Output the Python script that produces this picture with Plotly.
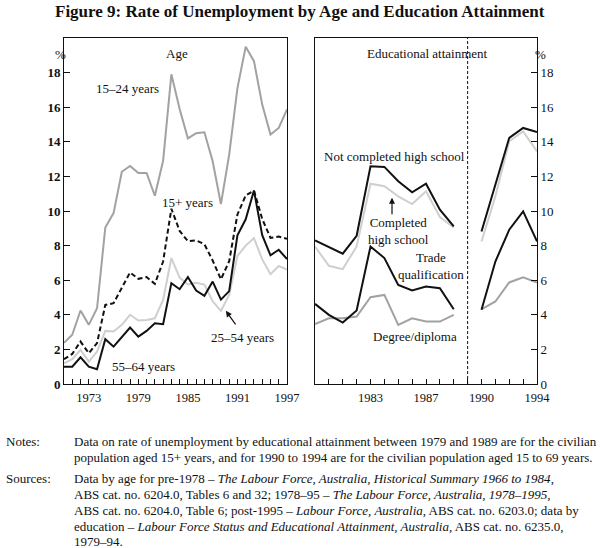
import plotly.graph_objects as go

# ---------------- data ----------------
age_years = list(range(1970, 1998))
age_15_24 = [2.38, 2.85, 4.25, 3.42, 4.38, 9.04, 9.88, 12.27, 12.6, 12.2, 12.2, 10.88, 12.9, 17.9,
             15.9, 14.2, 14.5, 14.55, 12.87, 10.4, 13.26, 17.1, 19.5, 18.66, 16.15, 14.42, 14.8, 15.87]
age_15_plus = [1.43, 1.74, 2.45, 1.78, 2.36, 4.57, 4.67, 5.54, 6.45, 6.08, 6.18, 5.79, 7.08, 10.13,
               8.85, 8.25, 8.3, 8.08, 7.14, 6.05, 7.1, 9.8, 10.9, 11.18, 9.54, 8.45, 8.52, 8.4]
age_25_54 = [1.2, 1.43, 1.97, 1.29, 1.87, 3.07, 3.03, 3.42, 4.0, 3.67, 3.7, 3.8, 4.86, 7.28,
             6.15, 5.75, 5.85, 5.75, 4.78, 4.22, 5.15, 7.4, 8.0, 8.43, 7.2, 6.35, 6.82, 6.62]
age_55_64 = [1.0, 1.0, 1.54, 1.0, 0.85, 2.59, 2.16, 2.7, 3.26, 2.74, 3.07, 3.51, 3.46, 5.83,
             5.48, 6.18, 5.4, 5.1, 5.92, 4.88, 5.37, 8.6, 9.52, 11.18, 8.6, 7.44, 7.76, 7.22]

edu_years_a = list(range(1979, 1990))
edu_years_b = list(range(1990, 1995))
not_completed_a = [8.3, 7.92, 7.53, 8.57, 12.59, 12.55, 11.72, 11.08, 11.58, 10.08, 9.11]
completed_a = [7.95, 6.83, 6.64, 7.95, 11.58, 11.43, 10.85, 10.4, 11.14, 9.65, 9.05]
trade_a = [4.63, 4.0, 3.55, 4.25, 7.95, 7.28, 5.73, 5.41, 5.64, 5.54, 4.32]
degree_a = [3.47, 3.8, 3.8, 3.9, 5.02, 5.15, 3.42, 3.8, 3.61, 3.61, 4.0]
not_completed_b = [8.82, 11.53, 14.23, 14.8, 14.56]
completed_b = [8.24, 10.85, 14.03, 14.6, 13.45]
trade_b = [4.29, 7.08, 8.92, 9.98, 8.24]
degree_b = [4.32, 4.77, 5.87, 6.16, 5.87]

age_tick_labels = [1973, 1979, 1985, 1991, 1997]
edu_tick_labels = [1983, 1987, 1990, 1994]
y_ticks = list(range(0, 20, 2))

# ---------------- layout helpers ----------------
W, H = 600, 548
SERIF = "Liberation Serif"
BLACK = "#111111"
MID_GREY = "#a2a2a2"
LIGHT_GREY = "#cfcfcf"
GAP = 1  # blank slot on the education axis between 1989 and 1990


def edu_pos(years):
    return [y + GAP if y >= 1990 else y for y in years]


def pxx(p):
    return p / W


def pxy(p):
    return 1 - p / H


fig = go.Figure()

# Age panel
fig.add_trace(go.Scatter(x=age_years, y=age_15_24, mode="lines", line=dict(color=MID_GREY, width=2), xaxis="x", yaxis="y"))
fig.add_trace(go.Scatter(x=age_years, y=age_25_54, mode="lines", line=dict(color=LIGHT_GREY, width=2), xaxis="x", yaxis="y"))
fig.add_trace(go.Scatter(x=age_years, y=age_55_64, mode="lines", line=dict(color=BLACK, width=2), xaxis="x", yaxis="y"))
fig.add_trace(go.Scatter(x=age_years, y=age_15_plus, mode="lines", line=dict(color=BLACK, width=2, dash="5px,3px"), xaxis="x", yaxis="y"))

# Education panel
for ya, yb, col in [(completed_a, completed_b, LIGHT_GREY), (degree_a, degree_b, MID_GREY),
                    (not_completed_a, not_completed_b, BLACK), (trade_a, trade_b, BLACK)]:
    fig.add_trace(go.Scatter(x=edu_pos(edu_years_a), y=ya, mode="lines", line=dict(color=col, width=2), xaxis="x2", yaxis="y2"))
    fig.add_trace(go.Scatter(x=edu_pos(edu_years_b), y=yb, mode="lines", line=dict(color=col, width=2), xaxis="x2", yaxis="y2"))

ydom = [pxy(384), pxy(38)]
axis_common = dict(showline=True, mirror=True, linecolor=BLACK, linewidth=1, showgrid=False, zeroline=False,
                   ticks="inside", tickcolor=BLACK, tickwidth=1, automargin=False)

age_tickvals = age_years
age_ticktext = [str(y) if y in age_tick_labels else "" for y in age_years]
edu_all = edu_years_a + edu_years_b
edu_tickvals = sorted(set(edu_pos(edu_all)) | {1990})
edu_ticktext = []
for v in edu_tickvals:
    yr = v - GAP if v > 1990 else v
    if v == 1990:
        edu_ticktext.append("")
    else:
        edu_ticktext.append(str(yr) if yr in edu_tick_labels else "")

fig.update_layout(
    width=W, height=H, margin=dict(l=0, r=0, t=0, b=0, pad=0),
    paper_bgcolor="white", plot_bgcolor="white", showlegend=False,
    font=dict(family=SERIF, color=BLACK, size=12),
    xaxis=dict(domain=[pxx(64), pxx(287)], range=[1970, 1997], tickvals=age_tickvals, ticktext=age_ticktext,
               ticklen=5, anchor="y", ticklabelstandoff=2, tickfont=dict(family=SERIF, size=12.5), **axis_common),
    yaxis=dict(domain=ydom, range=[0, 20], tickvals=y_ticks, ticktext=[f"<b>{v}</b>" for v in y_ticks],
               ticklen=6, anchor="x", tickfont=dict(family=SERIF, size=13), **axis_common),
    xaxis2=dict(domain=[pxx(315), pxx(537)], range=[1979, 1995], tickvals=edu_tickvals, ticktext=edu_ticktext,
                ticklen=5, anchor="y2", ticklabelstandoff=2, tickfont=dict(family=SERIF, size=12.5), **axis_common),
    yaxis2=dict(domain=ydom, range=[0, 20], tickvals=y_ticks, side="right", ticklen=6, anchor="x2",
                tickfont=dict(family=SERIF, size=13), **axis_common),
)

fig.add_shape(type="line", xref="x2", yref="y2 domain", x0=1990, x1=1990, y0=0, y1=1,
              line=dict(color=BLACK, width=1, dash="3px,2px"))

ann = []
txt = dict(family=SERIF, size=13, color=BLACK)
# title
ann.append(dict(text="<b>Figure 9: Rate of Unemployment by Age and Education Attainment</b>", xref="paper", yref="paper",
                x=0.5, y=pxy(12), xanchor="center", yanchor="middle", showarrow=False,
                font=dict(family=SERIF, size=17, color=BLACK)))
# percent signs
ann.append(dict(text="%", xref="paper", yref="paper", x=pxx(53), y=pxy(45), showarrow=False, font=txt))
ann.append(dict(text="%", xref="paper", yref="paper", x=pxx(548), y=pxy(45), showarrow=False, font=txt))

# age panel labels
for t, x, y in [("Age", 1983.7, 19.1), ("15–24 years", 1977.7, 17.1), ("15+ years", 1984.9, 10.5),
                ("25–54 years", 1991.6, 2.66), ("55–64 years", 1979.6, 1.04)]:
    ann.append(dict(text=t, xref="x", yref="y", x=x, y=y, showarrow=False, font=txt))
ann.append(dict(text="", xref="x", yref="y", x=1989.6, y=4.23, axref="x", ayref="y", ax=1990.9, ay=3.36,
                showarrow=True, arrowhead=2, arrowsize=1, arrowwidth=1.2, arrowcolor=BLACK))

# education panel labels
for t, x, y in [("Educational attainment", 1987.1, 19.1), ("Not completed high school", 1984.7, 13.16),
                ("Completed<br>high school", 1985.05, 8.86), ("Trade<br>qualification", 1987.36, 6.83),
                ("Degree/diploma", 1986.2, 2.72)]:
    ann.append(dict(text=t, xref="x2", yref="y2", x=x, y=y, showarrow=False, font=txt))
ann.append(dict(text="", xref="x2", yref="y2", x=1984.55, y=10.77, axref="x2", ayref="y2", ax=1984.55, ay=9.73,
                showarrow=True, arrowhead=2, arrowsize=1, arrowwidth=1.2, arrowcolor=BLACK))

# notes and sources
note_font = dict(family=SERIF, size=13, color=BLACK)
notes_lines = [
    (441, "Notes:", "Data on rate of unemployment by educational attainment between 1979 and 1989 are for the civilian"),
    (457, "", "population aged 15+ years, and for 1990 to 1994 are for the civilian population aged 15 to 69 years."),
    (478, "Sources:", "Data by age for pre-1978 – <i>The Labour Force, Australia, Historical Summary 1966 to 1984</i>,"),
    (494, "", "ABS cat. no. 6204.0, Tables 6 and 32; 1978–95 – <i>The Labour Force, Australia, 1978–1995</i>,"),
    (510, "", "ABS cat. no. 6204.0, Table 6; post-1995 – <i>Labour Force, Australia</i>, ABS cat. no. 6203.0; data by"),
    (526, "", "education – <i>Labour Force Status and Educational Attainment, Australia</i>, ABS cat. no. 6235.0,"),
    (541, "", "1979–94."),
]
for yp, lab, body in notes_lines:
    if lab:
        ann.append(dict(text=lab, xref="paper", yref="paper", x=pxx(4), y=pxy(yp), xanchor="left",
                        yanchor="middle", showarrow=False, font=note_font))
    ann.append(dict(text=body, xref="paper", yref="paper", x=pxx(72), y=pxy(yp), xanchor="left",
                    yanchor="middle", showarrow=False, font=note_font))

fig.update_layout(annotations=ann)
fig.write_html("out.html", config={"displayModeBar": False},
               post_script="document.body.style.margin='0';document.body.style.overflow='hidden';")
